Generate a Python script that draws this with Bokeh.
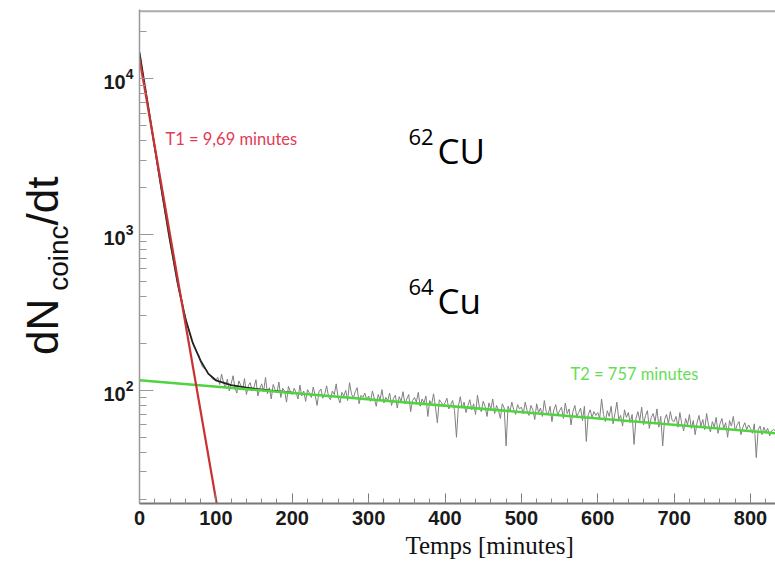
from bokeh.plotting import figure
from bokeh.layouts import row
from bokeh.models import Range1d, FixedTicker, Label, Span, Title, Div
from bokeh.embed import file_html
from bokeh.resources import INLINE

# ---- data ----
bin_width = 2.5  # minutes
counts = [
    # 0 - 97.5
    14700, 12300, 10200, 8500, 7100, 6000, 5000, 4200, 3500, 2950,
    2450, 2050, 1720, 1450, 1220, 1020, 870, 750, 640, 545,
    470, 410, 370, 330, 300, 265, 240, 215, 200, 188,
    175, 168, 152, 141, 138, 136, 127, 125, 119, 117,
    # 100 - 197.5
    116, 121, 109, 127, 112, 104, 118, 99, 110, 124, 103, 96, 115, 108, 101, 119, 94, 107, 112, 99,
    105, 117, 92, 103, 110, 98, 121, 95, 104, 88, 109, 101, 97, 113, 90, 103, 99, 84, 106, 98,
    # 200 - 297.5
    94, 103, 97, 88, 108, 92, 99, 85, 101, 96, 90, 105, 93, 80, 98, 102, 89, 95, 107, 91,
    87, 99, 94, 110, 90, 83, 97, 92, 100, 86, 112, 95, 89, 98, 104, 82, 93, 90, 96, 87,
    # 300 - 397.5
    92, 85, 99, 88, 79, 94, 87, 101, 83, 90, 86, 96, 80, 89, 93, 77, 91, 85, 98, 82,
    88, 94, 73, 86, 90, 84, 97, 79, 88, 83, 92, 68, 86, 81, 95, 78, 62, 87, 84, 80,
    # 400 - 497.5
    83, 89, 76, 81, 86, 74, 50, 79, 91, 77, 84, 72, 80, 87, 75, 82, 70, 93, 78, 73,
    85, 79, 68, 83, 76, 88, 71, 80, 74, 66, 82, 77, 44, 79, 73, 84, 75, 70, 81, 76,
    # 500 - 597.5
    78, 71, 84, 74, 69, 80, 75, 65, 82, 72, 77, 68, 86, 73, 70, 79, 63, 75, 81, 69,
    74, 78, 66, 83, 71, 76, 60, 73, 80, 68, 72, 77, 64, 79, 47, 70, 75, 67, 73, 69,
    # 600 - 697.5
    72, 66, 88, 70, 63, 74, 68, 79, 61, 71, 84, 65, 69, 59, 75, 67, 72, 62, 70, 45,
    66, 73, 64, 78, 60, 69, 74, 57, 67, 71, 63, 76, 58, 68, 44, 65, 70, 61, 73, 64,
    # 700 - 797.5
    63, 68, 58, 72, 61, 55, 66, 60, 70, 57, 64, 52, 62, 69, 59, 65, 56, 71, 60, 54,
    63, 58, 67, 53, 61, 66, 57, 62, 50, 64, 59, 68, 55, 60, 63, 52, 58, 62, 56, 60,
    # 800 - 832.5
    57, 53, 61, 37, 56, 59, 52, 58, 54, 57, 51, 55, 56, 55,
]
time_min = [i * bin_width for i in range(len(counts))]

fit_time = [0, 10, 20, 30, 40, 50, 60, 70, 80, 90, 100, 120, 140, 170, 200]
fit_counts = [14700, 7300, 3600, 1800, 920, 490, 290, 200, 155, 128, 116, 108, 104, 100, 96.5]

t1_time = [0, 101]
t1_counts = [13400, 18.8]
t2_time = [0, 834]
t2_counts = [116, 53]

x_ticks = [0, 100, 200, 300, 400, 500, 600, 700, 800]
x_minor = [m for m in range(0, 840, 20)]
y_ticks = [100, 1000, 10000]
y_minor = [20, 30, 40, 50, 60, 70, 80, 90, 200, 300, 400, 500, 600, 700, 800, 900,
           2000, 3000, 4000, 5000, 6000, 7000, 8000, 9000, 20000]

X_MAX = 832.7
Y_MIN, Y_MAX = 18.8, 27700

p = figure(width=705, height=565, y_axis_type="log", output_backend="svg",
           toolbar_location=None, x_range=Range1d(0, X_MAX), y_range=Range1d(Y_MIN, Y_MAX),
           min_border_left=69, min_border_right=0, min_border_top=9, min_border_bottom=62)
p.xgrid.visible = False
p.ygrid.visible = False
p.outline_line_color = None
p.background_fill_color = "white"
p.border_fill_color = "white"

# data histogram
p.line(time_min, counts, line_color="#808080", line_width=1)
# total fit
p.line(fit_time, fit_counts, line_color="#222222", line_width=1.8)
# components
p.line(t2_time, t2_counts, line_color="#4fd43f", line_width=2.5)
p.line(t1_time, t1_counts, line_color="#c83232", line_width=2.2)

# top frame line
p.add_layout(Span(location=27000, dimension="width", line_color="#aaaaaa", line_width=2))

# axes
p.xaxis.ticker = FixedTicker(ticks=x_ticks, minor_ticks=x_minor)
p.xaxis.major_tick_in = 10
p.xaxis.major_tick_out = 0
p.xaxis.minor_tick_in = 5
p.xaxis.minor_tick_out = 0
p.xaxis.axis_line_color = "#777777"
p.xaxis.axis_line_width = 2
p.xaxis.major_tick_line_color = "#777777"
p.xaxis.minor_tick_line_color = "#888888"
p.xaxis.major_label_text_font = "Liberation Sans"
p.xaxis.major_label_text_font_style = "bold"
p.xaxis.major_label_text_font_size = "20px"
p.xaxis.major_label_text_color = "#1a1a1a"
p.xaxis.major_label_standoff = 7

p.yaxis.ticker = FixedTicker(ticks=y_ticks, minor_ticks=y_minor)
p.yaxis.major_tick_in = 14
p.yaxis.major_tick_out = 0
p.yaxis.minor_tick_in = 7
p.yaxis.minor_tick_out = 0
p.yaxis.axis_line_color = "#999999"
p.yaxis.axis_line_width = 1.5
p.yaxis.major_tick_line_color = "#999999"
p.yaxis.minor_tick_line_color = "#999999"
p.yaxis.major_label_text_font = "Liberation Sans"
p.yaxis.major_label_text_font_style = "bold"
p.yaxis.major_label_text_font_size = "20px"
p.yaxis.major_label_text_color = "#1a1a1a"
p.yaxis.major_label_text_baseline = "top"
p.yaxis.major_label_standoff = 6

# x axis title
p.add_layout(Title(text="Temps [minutes]", align="left", offset=266, standoff=5,
                   text_font="Liberation Serif", text_font_size="25px",
                   text_font_style="normal", text_color="#111111"), "below")

# fit annotations
p.add_layout(Label(x=34.0, y=4064, text="T1 = 9,69 minutes", text_align="left",
                   text_baseline="alphabetic", text_font="Lato",
                   text_font_size="16.5px", text_color="#e33b55"))
p.add_layout(Label(x=564.3, y=126.6, text="T2 = 757 minutes", text_align="left",
                   text_baseline="alphabetic", text_font="Lato",
                   text_font_size="16.5px", text_color="#66dd55"))

# isotope labels
for sup, main, xs, ys, xm, ym in [("62", "CU", 352.2, 4188, 390.2, 3453),
                                  ("64", "Cu", 352.2, 457, 390.2, 377.6)]:
    p.add_layout(Label(x=xs, y=ys, text=sup, text_align="left", text_baseline="alphabetic",
                       text_font="Open Sans", text_font_size="22px", text_color="#000000"))
    p.add_layout(Label(x=xm, y=ym, text=main, text_align="left", text_baseline="alphabetic",
                       text_font="Open Sans", text_font_size="35px", text_color="#000000"))

# y axis title dN_coinc/dt (rotated, as HTML text)
ylab_html = (
    '<div style="position:relative;width:70px;height:565px;">'
    '<div style="position:absolute;left:21px;top:355px;transform-origin:0 0;'
    'transform:rotate(-90deg);white-space:nowrap;font-family:\'Liberation Sans\';'
    'font-size:44px;line-height:1;color:#111111;">'
    'dN<span style="font-size:28px;position:relative;top:10px;margin-left:8px;">coinc</span>/dt'
    '</div></div>'
)
ylab = Div(text=ylab_html, width=70, height=565, margin=0)

layout = row(ylab, p)
open("out.html", "w").write(file_html(layout, INLINE))
